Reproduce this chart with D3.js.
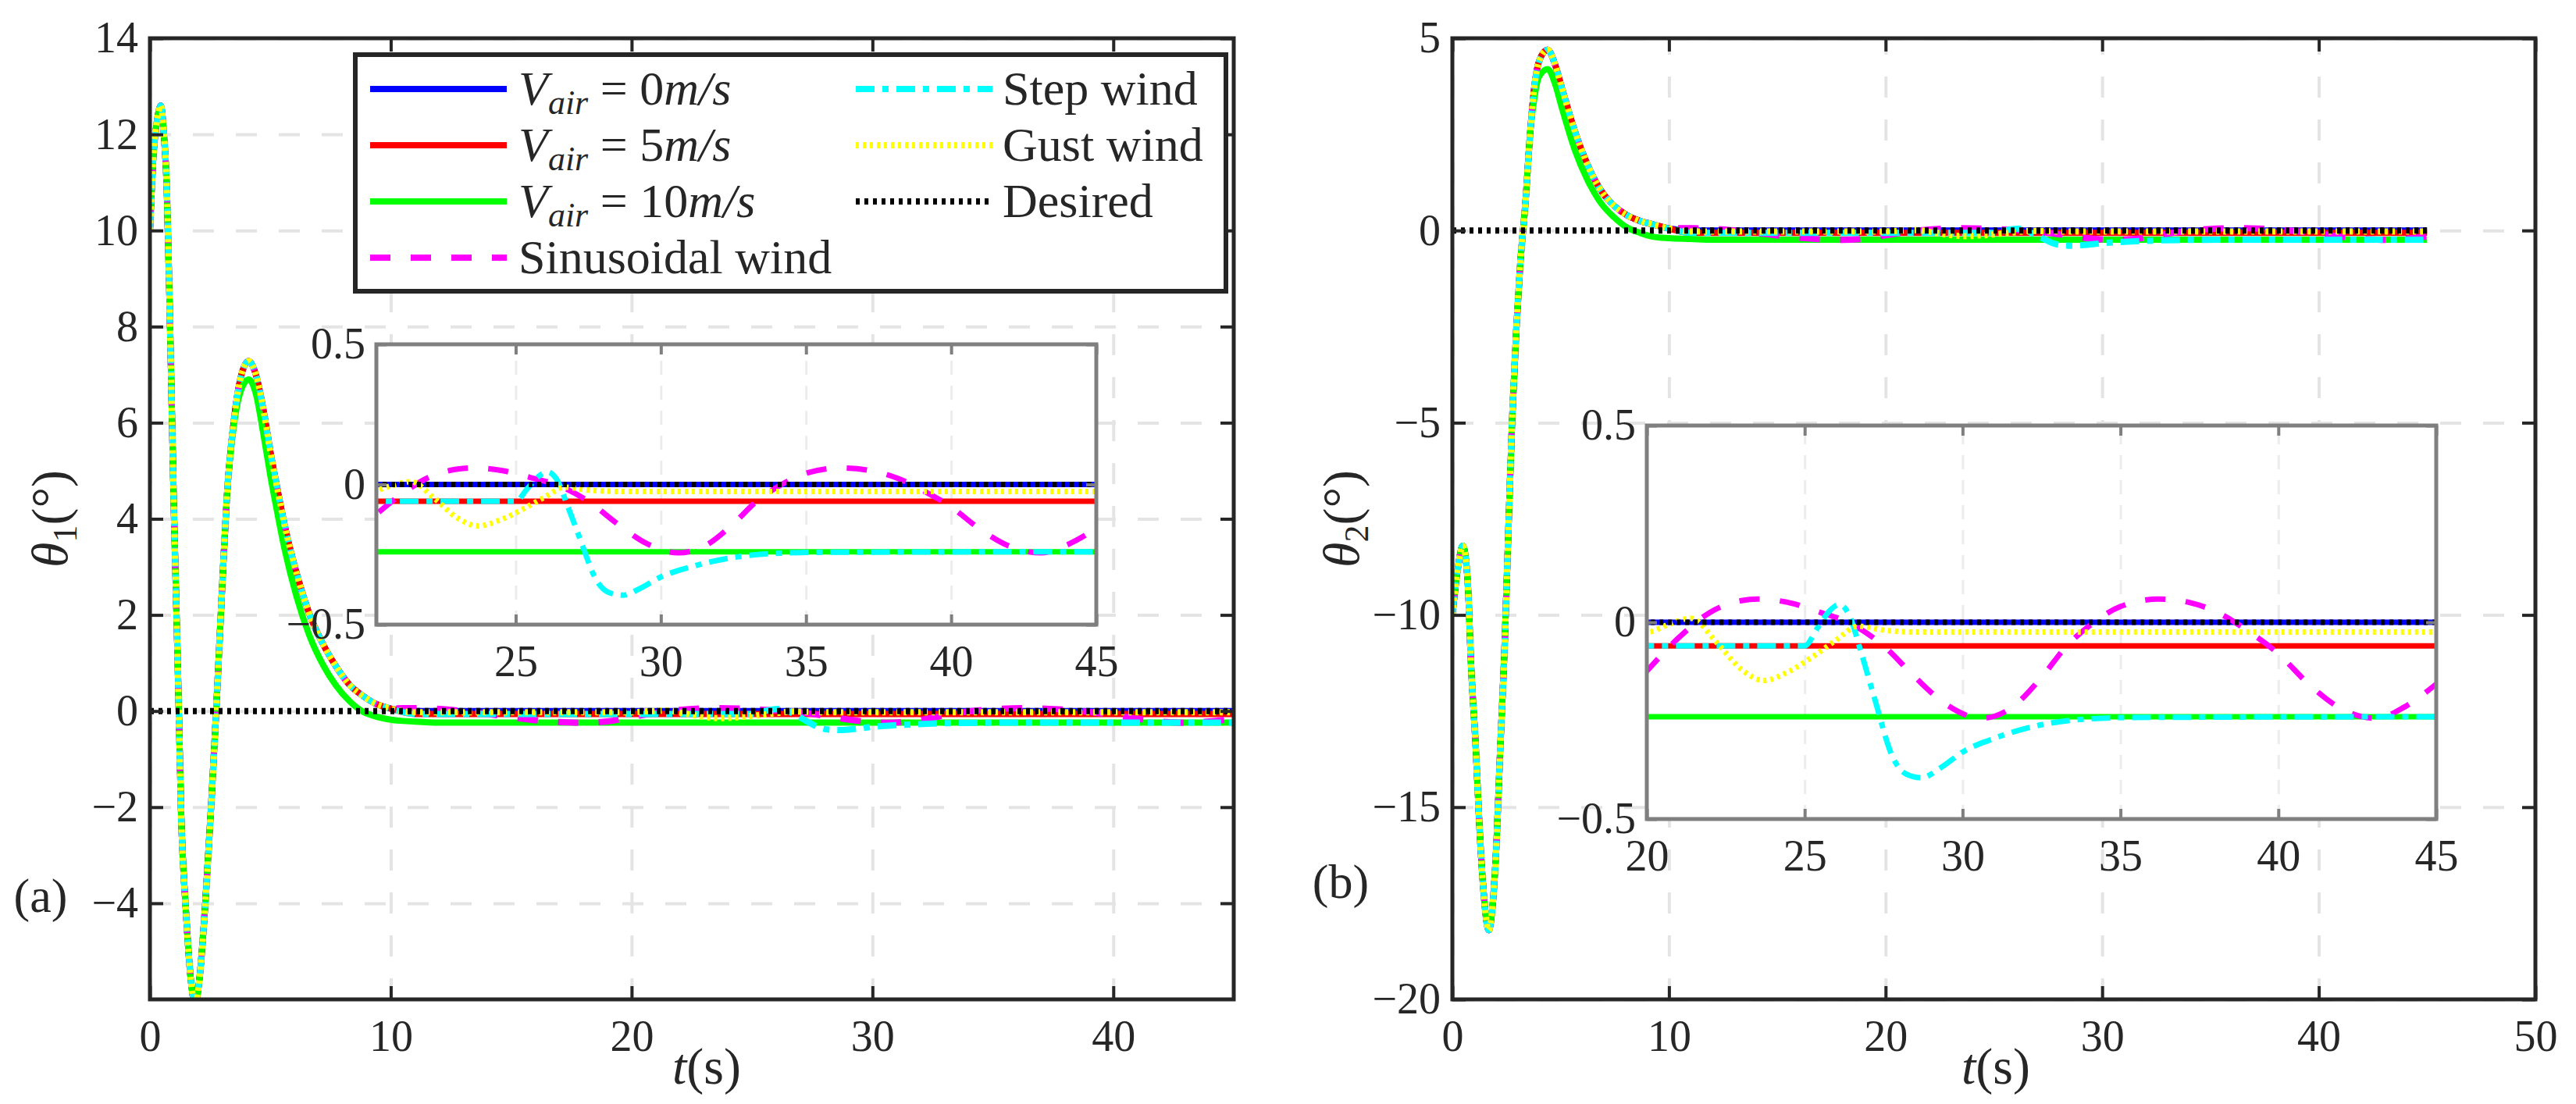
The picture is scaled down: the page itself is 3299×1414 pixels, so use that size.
<!DOCTYPE html>
<html>
<head>
<meta charset="utf-8">
<script src="https://d3js.org/d3.v7.min.js"></script>
<style>
  body { margin: 0; background: #fff; }
</style>
</head>
<body>
<script>
// ---------- values ----------
// panel (a), transient part of theta1 (deg)
const t1 = [0, 0.15, 0.3, 0.45, 0.58, 0.7, 0.85, 1.0, 1.15, 1.3, 1.5, 1.7, 1.88, 2.05, 2.3, 2.55, 2.75,
            3.0, 3.2, 3.5, 3.8, 4.1, 4.4, 4.7, 5.0, 5.3, 5.6, 6.1, 6.6, 7.2, 7.7, 8.3, 8.8, 9.3, 10];
const theta1Common = [10.0, 11.6, 12.3, 12.6, 12.0, 10.9, 7.7, 4.1, 1.1, -2.2, -4.2, -5.6, -6.1, -5.6, -4.0, -1.9, 0.0,
                      2.6, 4.5, 6.1, 7.0, 7.28, 7.0, 6.3, 5.4, 4.6, 3.85, 2.85, 2.05, 1.38, 0.95, 0.54, 0.33, 0.17, 0.05];
const theta1Air10 = [10.0, 11.6, 12.3, 12.6, 12.0, 10.9, 7.7, 4.1, 1.1, -2.2, -4.2, -5.6, -6.1, -5.6, -4.0, -1.9, 0.0,
                     2.6, 4.5, 6.0, 6.7, 6.9, 6.6, 5.8, 4.9, 4.1, 3.35, 2.36, 1.6, 0.95, 0.55, 0.2, 0.0, -0.1, -0.18];

// panel (b), transient part of theta2 (deg)
const t2 = [0, 0.25, 0.48, 0.65, 0.75, 0.84, 1.08, 1.25, 1.44, 1.68, 1.85, 2.04, 2.2, 2.4, 2.58, 2.76, 2.95,
            3.13, 3.37, 3.6, 3.8, 4.0, 4.4, 4.75, 5.05, 5.65, 6.25, 6.85, 7.45, 8.05, 8.65, 9.25, 10];
const theta2Common = [-10.0, -8.8, -8.2, -8.7, -9.6, -11.0, -13.45, -15.5, -17.2, -18.2, -17.6, -15.9, -13.6, -11.0, -7.9, -4.9, -2.6,
                      -0.9, 0.7, 2.6, 3.8, 4.4, 4.7, 4.3, 3.72, 2.59, 1.7, 1.05, 0.65, 0.4, 0.25, 0.16, 0.05];
const theta2Air10 = [-10.0, -8.8, -8.2, -8.7, -9.6, -11.0, -13.45, -15.5, -17.2, -18.2, -17.6, -15.9, -13.6, -11.0, -7.9, -4.9, -2.6,
                     -0.9, 0.7, 2.6, 3.5, 4.0, 4.2, 3.8, 3.2, 2.1, 1.3, 0.72, 0.35, 0.08, -0.06, -0.16, -0.2];

// steady part after ~10 s (same in both insets), [t, value]
const tailAir0 = [[11, 0], [45, 0]];
const tailAir5 = [[11, -0.06], [45, -0.06]];
const tailAir10 = [[11, -0.22], [12, -0.24], [45, -0.24]];
const tailSine = [[10.5, 0.06], [11, 0.059], [12, 0.045], [13, 0.0], [14, -0.06], [15, -0.13], [16, -0.19], [17, -0.23],
                  [18, -0.244], [19, -0.215], [20, -0.124], [21, -0.04], [22, 0.025], [23, 0.055], [23.5, 0.059],
                  [24.5, 0.05], [25.5, 0.025], [26.5, -0.005], [27.5, -0.06], [28.5, -0.14], [29.5, -0.21], [30.6, -0.244],
                  [31.5, -0.22], [32.5, -0.14], [33.3, -0.06], [34, -0.01], [35, 0.04], [36.2, 0.059], [37.2, 0.05],
                  [38.2, 0.02], [39, -0.02], [40, -0.08], [41, -0.16], [42, -0.22], [43.1, -0.244], [44, -0.215], [45, -0.157]];
const tailStep = [[11, -0.06], [25, -0.06], [25.4, -0.015], [25.8, 0.03], [26.1, 0.045], [26.4, 0.02], [26.8, -0.08],
                  [27.2, -0.19], [27.8, -0.345], [28.2, -0.385], [28.7, -0.395], [29.3, -0.37], [30, -0.33], [31, -0.295],
                  [31.8, -0.274], [33.6, -0.248], [35.4, -0.242], [45, -0.24]];
const tailGust = [[11, -0.025], [20, -0.025], [20.7, -0.005], [21.4, 0.01], [22.2, -0.05], [23, -0.12], [23.7, -0.148],
                  [24.5, -0.125], [25.3, -0.085], [26, -0.045], [26.7, -0.01], [27.5, -0.02], [28.5, -0.025], [45, -0.025]];
const desired = [[0, 0], [45, 0]];

const legendLabels = ["V_air = 0m/s", "V_air = 5m/s", "V_air = 10m/s", "Sinusoidal wind", "Step wind", "Gust wind", "Desired"];

const xTicksA = [0, 10, 20, 30, 40];
const yTicksA = [-4, -2, 0, 2, 4, 6, 8, 10, 12, 14];
const xTicksB = [0, 10, 20, 30, 40, 50];
const yTicksB = [-20, -15, -10, -5, 0, 5];
const xTicksInsetA = [25, 30, 35, 40, 45];
const xTicksInsetB = [20, 25, 30, 35, 40, 45];
const yTicksInset = [-0.5, 0, 0.5];

// ---------- styles ----------
const FONT = '"Liberation Serif", "Times New Roman", Times, "DejaVu Serif", serif';
const styles = [
  { key: "air0", color: "#0000ff", dash: null },
  { key: "air5", color: "#ff0000", dash: null },
  { key: "air10", color: "#00ff00", dash: null },
  { key: "sine", color: "#ff00ff", dash: "26,26" },
  { key: "step", color: "#00ffff", dash: "24,10,8,10" },
  { key: "gust", color: "#ffff00", dash: "4,5" },
  { key: "desired", color: "#000000", dash: "5,6" }
];

function buildSeries(t, common, air10) {
  const base = t.map((d, i) => [d, common[i]]);
  const green = t.map((d, i) => [d, air10[i]]);
  return {
    air0: base.concat(tailAir0),
    air5: base.concat(tailAir5),
    air10: green.concat(tailAir10),
    sine: base.concat(tailSine),
    step: base.concat(tailStep),
    gust: base.concat(tailGust),
    desired: desired
  };
}

const W = 3299, H = 1414;
const svg = d3.select("body").append("svg").attr("width", W).attr("height", H)
  .style("font-family", FONT);
const defs = svg.append("defs");
let clipId = 0;

function styleText(sel, size) {
  return sel.style("font-family", FONT).style("font-size", size + "px").style("fill", "#262626");
}

function styleAxis(sel, color, width, fontSize) {
  sel.attr("font-family", null).attr("font-size", null);
  sel.select(".domain").remove();
  sel.selectAll(".tick line").attr("stroke", color).attr("stroke-width", width);
  styleText(sel.selectAll(".tick text"), fontSize);
}

function grid(g, x, y, xv, yv, color, width, dash) {
  const [y0, y1] = y.range();
  const [x0, x1] = x.range();
  g.append("g").attr("transform", `translate(0,${y0})`)
    .call(d3.axisBottom(x).tickValues(xv).tickSize(-(y0 - y1)).tickFormat(""))
    .call(s => { s.select(".domain").remove(); s.selectAll("line").attr("stroke", color).attr("stroke-width", width).attr("stroke-dasharray", dash); });
  g.append("g").attr("transform", `translate(${x0},0)`)
    .call(d3.axisLeft(y).tickValues(yv).tickSize(-(x1 - x0)).tickFormat(""))
    .call(s => { s.select(".domain").remove(); s.selectAll("line").attr("stroke", color).attr("stroke-width", width).attr("stroke-dasharray", dash); });
}

function frame(g, x, y, xv, yv, opt) {
  const [y0, y1] = y.range();
  const [x0, x1] = x.range();
  const fmt = d3.format("~g");
  g.append("g").attr("transform", `translate(0,${y0})`)
    .call(d3.axisBottom(x).tickValues(xv).tickSizeInner(-opt.tick).tickSizeOuter(0).tickPadding(opt.padX).tickFormat(fmt))
    .call(s => styleAxis(s, opt.color, opt.tickWidth, opt.font));
  g.append("g").attr("transform", `translate(0,${y1})`)
    .call(d3.axisTop(x).tickValues(xv).tickSizeInner(-opt.tick).tickSizeOuter(0).tickFormat(""))
    .call(s => styleAxis(s, opt.color, opt.tickWidth, opt.font));
  g.append("g").attr("transform", `translate(${x0},0)`)
    .call(d3.axisLeft(y).tickValues(yv).tickSizeInner(-opt.tick).tickSizeOuter(0).tickPadding(opt.padY).tickFormat(fmt))
    .call(s => styleAxis(s, opt.color, opt.tickWidth, opt.font));
  g.append("g").attr("transform", `translate(${x1},0)`)
    .call(d3.axisRight(y).tickValues(yv).tickSizeInner(-opt.tick).tickSizeOuter(0).tickFormat(""))
    .call(s => styleAxis(s, opt.color, opt.tickWidth, opt.font));
  g.append("rect")
    .attr("x", x0).attr("y", y1).attr("width", x1 - x0).attr("height", y0 - y1)
    .attr("fill", "none").attr("stroke", opt.color).attr("stroke-width", opt.box);
}

function drawLines(g, x, y, series, width) {
  const id = "clip" + (clipId++);
  const [y0, y1] = y.range();
  const [x0, x1] = x.range();
  defs.append("clipPath").attr("id", id).append("rect")
    .attr("x", x0).attr("y", y1).attr("width", x1 - x0).attr("height", y0 - y1);
  const line = d3.line().x(d => x(d[0])).y(d => y(d[1])).curve(d3.curveMonotoneX);
  const lg = g.append("g").attr("clip-path", `url(#${id})`);
  styles.forEach(s => {
    lg.append("path")
      .attr("d", line(series[s.key]))
      .attr("fill", "none")
      .attr("stroke", s.color)
      .attr("stroke-width", width)
      .attr("stroke-dasharray", s.dash)
      .attr("stroke-linejoin", "round");
  });
}

function drawPanel(p) {
  const g = svg.append("g");
  const x = d3.scaleLinear().domain(p.xDomain).range(p.xRange);
  const y = d3.scaleLinear().domain(p.yDomain).range(p.yRange);
  grid(g, x, y, p.xTicks, p.yTicks, "#e4e4e4", 4, "27,28");
  drawLines(g, x, y, p.series, 8);
  frame(g, x, y, p.xTicks, p.yTicks, { color: "#262626", tick: 17, tickWidth: 4, box: 5, padX: 26, padY: 15, font: 56 });

  // inset
  const ix = d3.scaleLinear().domain(p.inset.xDomain).range(p.inset.xRange);
  const iy = d3.scaleLinear().domain([-0.5, 0.5]).range(p.inset.yRange);
  const ig = g.append("g");
  ig.append("rect")
    .attr("x", ix.range()[0]).attr("y", iy.range()[1])
    .attr("width", ix.range()[1] - ix.range()[0]).attr("height", iy.range()[0] - iy.range()[1])
    .attr("fill", "#fff");
  grid(ig, ix, iy, p.inset.xTicks, yTicksInset, "#ececec", 3, "18,14");
  drawLines(ig, ix, iy, p.series, 7);
  frame(ig, ix, iy, p.inset.xTicks, yTicksInset, { color: "#7f7f7f", tick: 13, tickWidth: 4, box: 5, padX: 26, padY: 14, font: 56 });

  // labels
  const yl = styleText(g.append("text"), 66)
    .attr("transform", `translate(${p.yLabelX},${(p.yRange[0] + p.yRange[1]) / 2}) rotate(-90)`)
    .attr("text-anchor", "middle");
  yl.append("tspan").attr("font-style", "italic").text("θ");
  yl.append("tspan").style("font-size", "44px").attr("dy", 12).text(p.sub);
  yl.append("tspan").attr("dy", -12).text("(°)");

  const xl = styleText(g.append("text"), 66)
    .attr("x", p.xLabelX).attr("y", 1388)
    .attr("text-anchor", "middle");
  xl.append("tspan").attr("font-style", "italic").text("t");
  xl.append("tspan").text("(s)");

  styleText(g.append("text"), 62).attr("x", p.tag[0]).attr("y", p.tag[1]).attr("text-anchor", "middle")
    .attr("dy", "0.32em").text(p.tagText);
}

drawPanel({
  xDomain: [0, 45], xRange: [192, 1580],
  yDomain: [-6, 14], yRange: [1280, 49],
  xTicks: xTicksA, yTicks: yTicksA,
  series: buildSeries(t1, theta1Common, theta1Air10),
  inset: { xDomain: [20.2, 45], xRange: [482, 1404], yRange: [800, 441], xTicks: xTicksInsetA },
  yLabelX: 86, sub: "1", xLabelX: 905, tag: [52, 1148], tagText: "(a)"
});

drawPanel({
  xDomain: [0, 50], xRange: [1860, 3247],
  yDomain: [-20, 5], yRange: [1280, 49],
  xTicks: xTicksB, yTicks: yTicksB,
  series: buildSeries(t2, theta2Common, theta2Air10),
  inset: { xDomain: [20, 45], xRange: [2109, 3120], yRange: [1049, 545], xTicks: xTicksInsetB },
  yLabelX: 1740, sub: "2", xLabelX: 2556, tag: [1717, 1130], tagText: "(b)"
});

// ---------- legend (panel a) ----------
const lg = svg.append("g");
lg.append("rect").attr("x", 455).attr("y", 70).attr("width", 1115).attr("height", 303)
  .attr("fill", "#fff").attr("stroke", "#262626").attr("stroke-width", 6);
const rowY = [114, 186, 258, 330];
const cols = [{ x0: 474, x1: 649, tx: 664 }, { x0: 1096, x1: 1271, tx: 1284 }];
styles.forEach((s, i) => {
  const c = cols[i < 4 ? 0 : 1];
  const ry = rowY[i < 4 ? i : i - 4];
  lg.append("line").attr("x1", c.x0).attr("x2", c.x1).attr("y1", ry).attr("y2", ry)
    .attr("stroke", s.color).attr("stroke-width", 8).attr("stroke-dasharray", s.dash);
  const label = legendLabels[i];
  const t = styleText(lg.append("text"), 62).attr("x", c.tx).attr("y", ry + 20);
  if (label.startsWith("V_air")) {
    const rest = label.split("= ")[1];
    const num = rest.replace("m/s", "");
    t.append("tspan").attr("font-style", "italic").text("V");
    t.append("tspan").attr("font-style", "italic").style("font-size", "44px").attr("dy", 12).text("air");
    t.append("tspan").attr("dy", -12).text(" = " + num);
    t.append("tspan").attr("font-style", "italic").text("m/s");
  } else {
    t.text(label);
  }
});
</script>
</body>
</html>
